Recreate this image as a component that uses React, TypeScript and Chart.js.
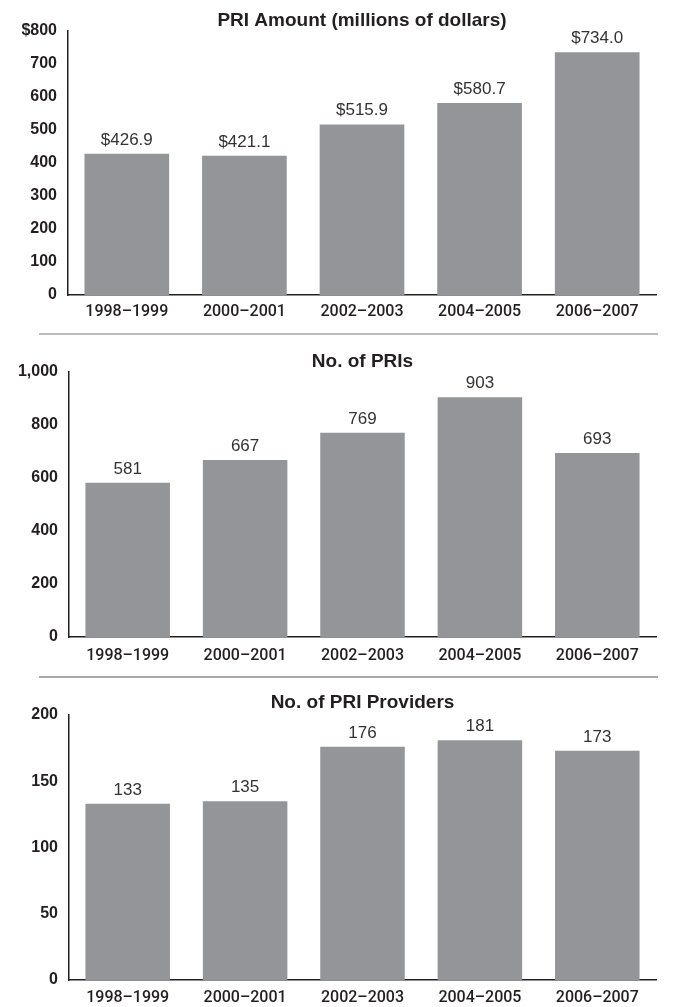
import React, { useEffect, useRef } from "react";
import { Chart, registerables } from "chart.js";

Chart.register(...registerables);

const categories = ["1998–1999", "2000–2001", "2002–2003", "2004–2005", "2006–2007"];
const priAmount = [426.9, 421.1, 515.9, 580.7, 734.0];
const priCount = [581, 667, 769, 903, 693];
const priProviders = [133, 135, 176, 181, 173];

const titles = ["PRI Amount (millions of dollars)", "No. of PRIs", "No. of PRI Providers"];

const FONT = "'Liberation Sans', Arial, sans-serif";
const LABEL_FONT = "Roboto, 'Liberation Sans', Arial, sans-serif";
const TEXT = "#231f20";
const BAR = "#939598";

type PanelProps = {
  top: number;
  height: number;
  title: string;
  values: number[];
  max: number;
  step: number;
  tickFmt: (v: number) => string;
  valueFmt: (v: number) => string;
  titlePadTop: number;
  titlePadBottom: number;
  axisHeight: number;
  tickPad: number;
  axisWidth: number;
};

const valueLabels = {
  id: "valueLabels",
  afterDatasetsDraw(chart: any, _args: any, opts: any) {
    const ctx = chart.ctx;
    const meta = chart.getDatasetMeta(0);
    const data = chart.data.datasets[0].data as number[];
    ctx.save();
    ctx.font = `17px ${FONT}`;
    ctx.fillStyle = "#333333";
    ctx.textAlign = "center";
    ctx.textBaseline = "alphabetic";
    meta.data.forEach((bar: any, i: number) => {
      ctx.fillText(opts.fmt(data[i]), bar.x, bar.y - 9);
    });
    ctx.restore();
  },
};

function Panel(p: PanelProps) {
  const ref = useRef<HTMLCanvasElement | null>(null);
  useEffect(() => {
    if (!ref.current) return;
    const chart = new Chart(ref.current, {
      type: "bar",
      data: {
        labels: categories,
        datasets: [
          {
            data: p.values,
            backgroundColor: BAR,
            borderWidth: 0,
            barPercentage: 0.72,
            categoryPercentage: 1,
          },
        ],
      },
      options: {
        animation: false,
        responsive: true,
        maintainAspectRatio: false,
        layout: { padding: { left: 0, right: 27, top: 0, bottom: 0 } },
        plugins: {
          legend: { display: false },
          tooltip: { enabled: false },
          title: {
            display: true,
            text: p.title,
            fullSize: false,
            color: TEXT,
            font: { family: FONT, size: 19, weight: "bold", lineHeight: 1 },
            padding: { top: p.titlePadTop, bottom: p.titlePadBottom },
          },
          valueLabels: { fmt: p.valueFmt },
        } as any,
        scales: {
          x: {
            grid: { display: false, drawTicks: false },
            border: { display: true, color: TEXT, width: 1.5 },
            ticks: {
              color: TEXT,
              font: { family: LABEL_FONT, size: 16, weight: "500" },
              padding: p.tickPad,
              maxRotation: 0,
              autoSkip: false,
            },
            afterFit: (s: any) => {
              s.height = p.axisHeight;
            },
          },
          y: {
            min: 0,
            max: p.max,
            grid: { display: false, drawTicks: false },
            border: { display: true, color: TEXT, width: 1.5 },
            ticks: {
              stepSize: p.step,
              color: TEXT,
              font: { family: FONT, size: 16, weight: "bold" },
              padding: 11,
              callback: (v: any) => p.tickFmt(Number(v)),
            },
            afterFit: (s: any) => {
              s.width = p.axisWidth;
            },
          },
        },
      },
      plugins: [valueLabels],
    });
    return () => chart.destroy();
  }, []);
  return (
    <div style={{ position: "absolute", left: 0, top: p.top, width: 683, height: p.height }}>
      <canvas ref={ref} />
    </div>
  );
}

export default function App() {
  return (
    <div style={{ position: "absolute", left: 0, top: 0, width: 683, height: 1007, background: "#fff", overflow: "hidden" }}>
      <Panel
        top={0}
        height={334}
        title={titles[0]}
        values={priAmount}
        max={800}
        step={100}
        tickFmt={(v) => (v === 800 ? "$800" : String(v))}
        valueFmt={(v) => "$" + v.toFixed(1)}
        titlePadTop={11.5}
        titlePadBottom={0}
        axisHeight={39}
        tickPad={7}
        axisWidth={68}
      />
      <div style={{ position: "absolute", left: 39, top: 333, width: 619, height: 2, background: "#bcbcbc" }} />
      <Panel
        top={336}
        height={340}
        title={titles[1]}
        values={priCount}
        max={1000}
        step={200}
        tickFmt={(v) => v.toLocaleString("en-US")}
        valueFmt={(v) => String(v)}
        titlePadTop={16.5}
        titlePadBottom={0}
        axisHeight={39}
        tickPad={9}
        axisWidth={69}
      />
      <div style={{ position: "absolute", left: 39, top: 676, width: 619, height: 1.5, background: "#a8a8a8" }} />
      <Panel
        top={678}
        height={329}
        title={titles[2]}
        values={priProviders}
        max={200}
        step={50}
        tickFmt={(v) => String(v)}
        valueFmt={(v) => String(v)}
        titlePadTop={15}
        titlePadBottom={3}
        axisHeight={27}
        tickPad={8}
        axisWidth={69}
      />
    </div>
  );
}
